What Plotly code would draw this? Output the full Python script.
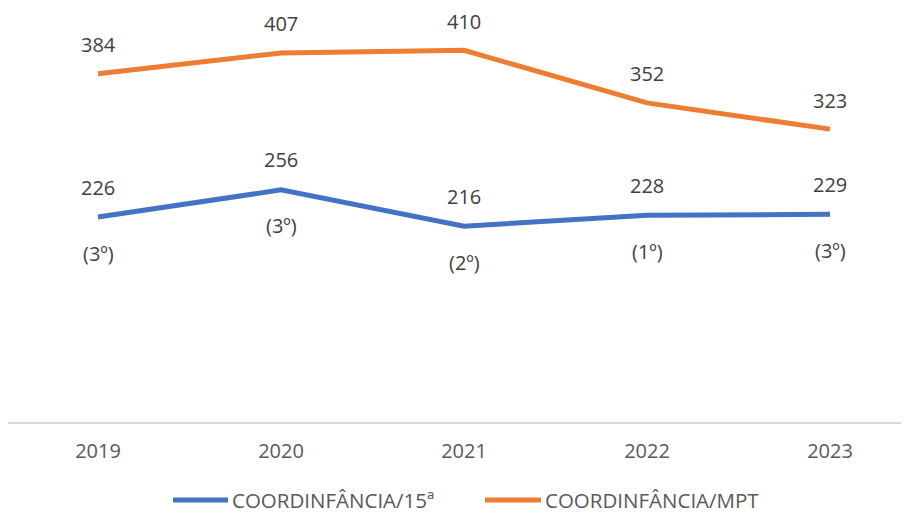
import plotly.graph_objects as go

years = ["2019", "2020", "2021", "2022", "2023"]
mpt_values = [384, 407, 410, 352, 323]
coord15_values = [226, 256, 216, 228, 229]
coord15_ranks = ["(3º)", "(3º)", "(2º)", "(1º)", "(3º)"]
series_names = ["COORDINFÂNCIA/15ª", "COORDINFÂNCIA/MPT"]

BLUE = "#4472C4"
ORANGE = "#ED7D31"
FONT = "Open Sans"
idx = list(range(len(years)))

# the page body has an 8px margin, so the figure is placed at (8, 8)
OFF = 8
W, H = 901, 512
PW, B_Y = W, 422 - OFF
PPY = 408 / 450.0          # pixels per value unit
Y_MAX = B_Y / PPY          # plot area reaches the figure top
PPU = 183.0
x_left = -(98 - OFF) / PPU
x_right = x_left + PW / PPU

fig = go.Figure()
fig.add_trace(go.Scatter(x=idx, y=coord15_values, mode="lines",
                         line=dict(color=BLUE, width=5), name=series_names[0],
                         showlegend=False))
fig.add_trace(go.Scatter(x=idx, y=mpt_values, mode="lines",
                         line=dict(color=ORANGE, width=5), name=series_names[1],
                         showlegend=False))

ann = []
lab_font = dict(family=FONT, size=20, color="#404040")
for i, v in zip(idx, mpt_values):
    ann.append(dict(x=i, y=v, text=str(v), showarrow=False, yanchor="middle",
                    yshift=29, font=lab_font, borderpad=0))
for i, v, r in zip(idx, coord15_values, coord15_ranks):
    ann.append(dict(x=i, y=v, text=str(v), showarrow=False, yanchor="middle",
                    yshift=30, font=lab_font, borderpad=0))
    ann.append(dict(x=i, y=v, text=r, showarrow=False, yanchor="middle",
                    yshift=-36, font=lab_font, borderpad=0))

# custom legend (window pixel positions)
PH = B_Y
legend_items = [(series_names[0], BLUE, 173, 228), (series_names[1], ORANGE, 485, 541)]
shapes = []
ly = -(500 - 422) / PH
for name, col, x0, x1 in legend_items:
    shapes.append(dict(type="line", xref="paper", yref="paper",
                       x0=(x0 - OFF) / PW, x1=(x1 - OFF) / PW, y0=ly, y1=ly,
                       line=dict(color=col, width=5)))
    ann.append(dict(xref="paper", yref="paper", x=(x1 + 2 - OFF) / PW, y=ly,
                    xanchor="left", yanchor="middle", text=name, showarrow=False,
                    font=dict(family=FONT, size=20.5, color="#595959")))

fig.update_layout(
    width=W, height=H,
    margin=dict(l=0, r=0, t=0, b=H - B_Y, autoexpand=False),
    paper_bgcolor="white", plot_bgcolor="white",
    annotations=ann, shapes=shapes,
    xaxis=dict(range=[x_left, x_right], showgrid=False, zeroline=False,
               tickmode="array", tickvals=idx, ticktext=years,
               showline=True, linecolor="#D9D9D9", linewidth=2,
               ticks="", ticklabelstandoff=10, automargin=False,
               tickfont=dict(family=FONT, size=20, color="#595959")),
    yaxis=dict(range=[0, Y_MAX], showgrid=False, showticklabels=False,
               zeroline=False, showline=False, automargin=False),
    showlegend=False,
)

fig.write_html("out.html")
